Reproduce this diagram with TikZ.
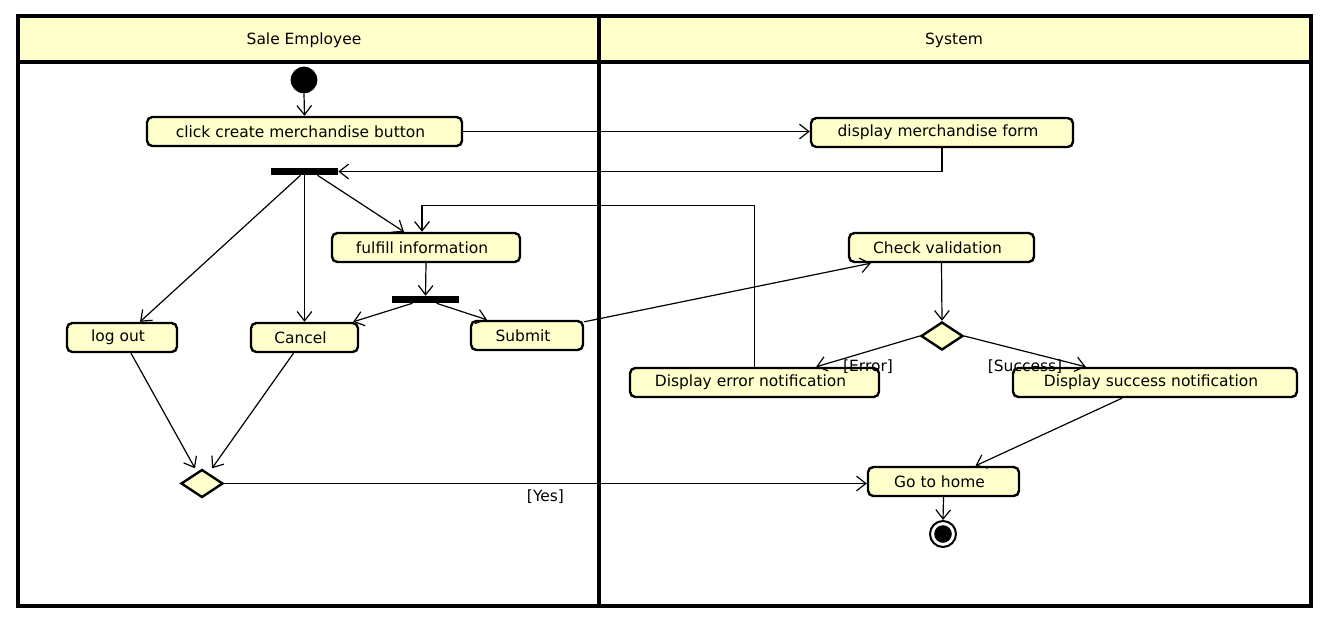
\documentclass[tikz,border=0pt]{standalone}
\usepackage{fontspec}
\setmainfont{DejaVu Sans}
\usetikzlibrary{arrows.meta,shapes.geometric,calc}
\definecolor{umlfill}{HTML}{FFFFCC}
\begin{document}
\begin{tikzpicture}[x=0.75pt,y=-0.75pt,
  every node/.style={font=\fontsize{11.6pt}{13pt}\selectfont},
  act/.style={draw, line width=1.8pt, rounded corners=4pt, fill=umlfill,
    minimum height=21.75pt, inner sep=0pt, execute at end node={\hspace{6pt}}},
  bar/.style={fill=black, inner sep=0pt, minimum width=50.25pt, minimum height=5.25pt},
  decision/.style={diamond, draw, line width=1.8pt, fill=umlfill, inner sep=0pt,
    minimum width=31.5pt, minimum height=21pt},
  flow/.style={line width=0.9pt, -{Straight Barb[length=7pt,width=11pt,line width=0.9pt]}},
  guard/.style={inner sep=0pt},
  lane/.style={line width=2.5pt}]

\useasboundingbox (0,0) rectangle (1335,622);

% swimlanes
\draw[lane, fill=umlfill] (18,16) rectangle (1311,62);
\draw[lane] (18,16) rectangle (1311,606);
\draw[lane] (599,16) -- (599,606);
\node (hdrA) at (304,40) {Sale Employee};
\node (hdrB) at (954,40) {System};

% nodes of the Sale Employee lane
\node[circle, fill=black, inner sep=0pt, minimum size=20pt] (init) at (304,80) {};
\node[act, minimum width=236.25pt] (click) at (304.5,131.5) {click create merchandise button};
\node[bar] (bar1) at (304.5,171.5) {};
\node[act, minimum width=141pt] (fulfill) at (426,247.5) {fulfill information};
\node[bar] (bar2) at (425.5,299.5) {};
\node[act, minimum width=82.5pt] (logout) at (122,337.5) {log out};
\node[act, minimum width=80.25pt] (cancel) at (304.5,337.5) {Cancel};
\node[act, minimum width=84pt] (submit) at (527,335.5) {Submit};
\node[decision] (dia1) at (202,483.5) {};

% nodes of the System lane
\node[act, minimum width=196.5pt] (dispform) at (942,132.5) {display merchandise form};
\node[act, minimum width=138.75pt] (check) at (941.5,247.5) {Check validation};
\node[decision] (dia2) at (942,336) {};
\node[act, minimum width=186.75pt] (err) at (754.5,382.5) {Display error notification};
\node[act, minimum width=213pt] (succ) at (1155,382.5) {Display success notification};
\node[act, minimum width=113.25pt] (home) at (943.5,481.5) {Go to home};
\node[circle, draw, line width=1.5pt, inner sep=0pt, minimum size=19.5pt,
  path picture={\fill (path picture bounding box.center) circle (6.6pt);}] (final) at (943,534) {};

% control flows
\draw[flow] (init.south) -- (click.north);
\draw[flow] (click.east) -- (click.east -| dispform.west);
\draw[flow] (dispform.south) |- (bar1.east);
\draw[flow] ($(bar1.south)+(-4,0)$) -- ($(logout.north)+(18,0)$);
\draw[flow] (bar1.south) -- (cancel.north);
\draw[flow] ($(bar1.south)+(13,0)$) -- ($(fulfill.north)+(-22,0)$);
\draw[flow] (err.north) -- ++(0,-161) -| ($(fulfill.north)+(-4,0)$);
\draw[flow] (fulfill.south) -- (bar2.north);
\draw[flow] ($(bar2.south)+(-13,0)$) -- ($(cancel.north east)+(-6,0)$);
\draw[flow] ($(bar2.south)+(11,0)$) -- ($(submit.north)+(-40,0)$);
\draw[flow] ($(submit.north east)+(0,2)$) -- ($(check.south west)+(23,0)$);
\draw[flow] (check.south) -- (dia2.north);
\draw[flow] (dia2.west) -- ($(err.north east)+(-64,0)$)
  node[guard, pos=0.5, yshift=-11.25pt] {[Error]};
\draw[flow] (dia2.east) -- ($(succ.north west)+(74,0)$)
  node[guard, pos=0.5, yshift=-11.25pt] {[Success]};
\draw[flow] ($(succ.south)+(-33,0)$) -- ($(home.north)+(32,0)$);
\draw[flow] ($(logout.south)+(9,0)$) -- ($(dia1.north)+(-7,0)$);
\draw[flow] ($(cancel.south)+(-11,0)$) -- ($(dia1.north)+(10,0)$);
\draw[flow] (dia1.east) -- (dia1.east -| home.west)
  node[guard, pos=0.5, yshift=-9.75pt] {[Yes]};
\draw[flow] (home.south) -- (final.north);
\end{tikzpicture}
\end{document}
